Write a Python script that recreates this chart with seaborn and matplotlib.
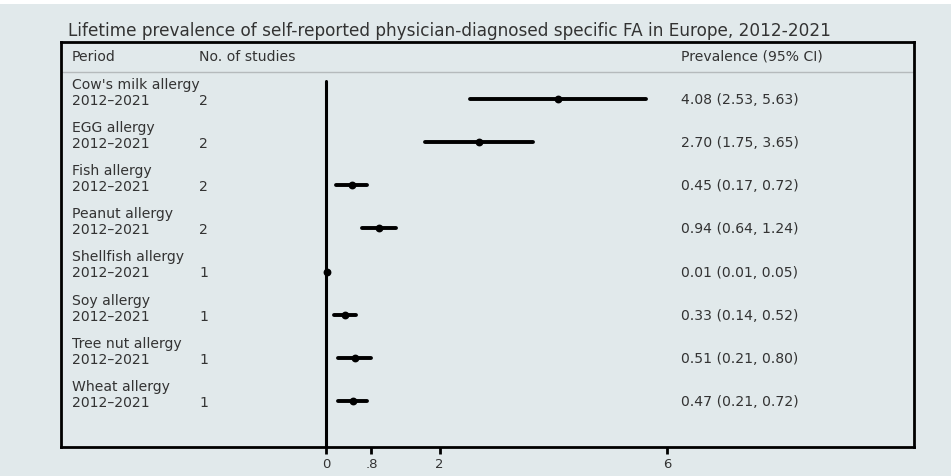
import numpy as np
import pandas as pd
import seaborn as sns
import matplotlib.pyplot as plt

# Data
allergies = ["Cow's milk allergy", "EGG allergy", "Fish allergy", "Peanut allergy",
             "Shellfish allergy", "Soy allergy", "Tree nut allergy", "Wheat allergy"]
periods = ["2012\u20132021"] * 8
n_studies = [2, 2, 2, 2, 1, 1, 1, 1]
prev = [4.08, 2.70, 0.45, 0.94, 0.01, 0.33, 0.51, 0.47]
lower = [2.53, 1.75, 0.17, 0.64, 0.01, 0.14, 0.21, 0.21]
upper = [5.63, 3.65, 0.72, 1.24, 0.05, 0.52, 0.80, 0.72]
xticks = [0, 0.8, 2, 6]
xticklabels = ["0", ".8", "2", "6"]

# long form: lower / estimate / upper per row -> median + full range
rows = []
for a, lo, m, hi in zip(allergies, lower, prev, upper):
    for v in (lo, m, hi):
        rows.append({"allergy": a, "value": v})
df = pd.DataFrame(rows)

bg = "#e1e9eb"
txt = "#333333"
sns.set_style("white")
plt.rcParams["font.family"] = ["DejaVu Sans"]

fig = plt.figure(figsize=(9.51, 4.77), dpi=100)
fig.patch.set_facecolor(bg)
fig.patches.append(plt.Rectangle((0, 1 - 5 / 477), 1, 5 / 477, transform=fig.transFigure,
                                 facecolor="white", edgecolor="none"))
ax = fig.add_axes([61 / 951, 29 / 477, 853 / 951, 405 / 477])
ax.set_facecolor(bg)

sns.pointplot(data=df, x="value", y="allergy", order=allergies, estimator="median",
              errorbar=("pi", 100), linestyle="none", color="black", marker="o",
              markersize=3.6, err_kws={"linewidth": 2.8}, ax=ax)

ax.set_xlim(-4.665, 10.35)
ax.set_ylim(8.067, -1.321)
ax.set_xlabel("")
ax.set_ylabel("")
ax.set_yticks([])
ax.set_xticks(xticks)
ax.set_xticklabels(xticklabels, fontsize=9.5, color=txt)
ax.tick_params(axis="x", direction="out", length=5, width=2, color="black", pad=2, bottom=True)
for s in ax.spines.values():
    s.set_visible(True)
    s.set_color("black")
    s.set_linewidth(2)

# zero reference line and header separator
ax.axvline(0, ymin=0, ymax=(8.067 - (-0.417)) / (8.067 + 1.321), color="black", lw=2.2)
ax.axhline(-0.626, color="#b5babc", lw=1)

fs = 10.1
tx = ax.get_yaxis_transform()
ax.text(0.013, -1.0, "Period", transform=tx, fontsize=fs, color=txt, va="center")
ax.text(0.162, -1.0, "No. of studies", transform=tx, fontsize=fs, color=txt, va="center")
ax.text(0.727, -1.0, "Prevalence (95% CI)", transform=tx, fontsize=fs, color=txt, va="center")

for i, (a, p, n, m, lo, hi) in enumerate(zip(allergies, periods, n_studies, prev, lower, upper)):
    ax.text(0.013, i - 0.35, a, transform=tx, fontsize=fs, color=txt, va="center")
    ax.text(0.013, i + 0.02, p, transform=tx, fontsize=fs, color=txt, va="center")
    ax.text(0.162, i + 0.02, str(n), transform=tx, fontsize=fs, color=txt, va="center")
    ax.text(0.727, i, f"{m:.2f} ({lo:.2f}, {hi:.2f})", transform=tx, fontsize=fs,
            color=txt, va="center")

fig.text(68 / 951, 1 - 31 / 477, "Lifetime prevalence of self-reported physician-diagnosed "
         "specific FA in Europe, 2012-2021", fontsize=12.2, color=txt, va="center")

fig.savefig("out.png", dpi=100, facecolor=bg)
